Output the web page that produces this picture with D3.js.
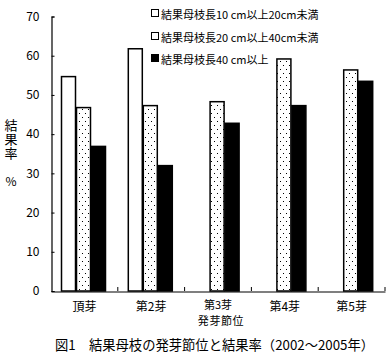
<!DOCTYPE html>
<html><head><meta charset="utf-8">
<script src="https://cdn.jsdelivr.net/npm/d3@7"></script>
<style>body{margin:0;background:#fff}svg{display:block}</style>
</head><body>
<svg id="c" width="391" height="357"></svg>
<script>
const categories = ["頂芽","第2芽","第3芽","第4芽","第5芽"];
const seriesNames = ["結果母枝長10 cm以上20cm未満","結果母枝長20 cm以上40cm未満","結果母枝長40 cm以上"];
const s1 = [54.8, 61.9, null, null, null];
const s2 = [46.9, 47.4, 48.4, 59.3, 56.5];
const s3 = [37.0, 32.1, 42.9, 47.4, 53.6];
const yTicks = [0,10,20,30,40,50,60,70];
const series = [s1, s2, s3];

const font = "'Noto Sans CJK JP', sans-serif";
const svg = d3.select("#c");
const defs = svg.append("defs");
const pat = defs.append("pattern").attr("id","dots").attr("patternUnits","userSpaceOnUse")
  .attr("width",6).attr("height",8);
pat.append("rect").attr("width",6).attr("height",8).attr("fill","#fff");
pat.append("rect").attr("x",1).attr("y",1).attr("width",1).attr("height",1).attr("fill","#000");
pat.append("rect").attr("x",4).attr("y",5).attr("width",1).attr("height",1).attr("fill","#000");

const x0 = d3.scaleBand().domain(categories).range([51,385]).padding(0);
const x1 = d3.scaleBand().domain([0,1,2]).range([10,55]).padding(0);
const y = d3.scaleLinear().domain([0,70]).range([291,16.5]);

const fills = ["#fff","url(#dots)","#000"];

// bars
categories.forEach((c,i)=>{
  series.forEach((s,j)=>{
    const v = s[i];
    if (v==null) return;
    svg.append("rect")
      .attr("x", x0(c)+x1(j)+0.5)
      .attr("y", y(v)+0.5)
      .attr("width", x1.bandwidth()-1)
      .attr("height", y(0)-y(v)-0.5)
      .attr("fill", fills[j]).attr("stroke","#000").attr("stroke-width",1.5);
  });
});

// y axis
const ya = svg.append("g").attr("transform","translate(51.5,0)")
  .call(d3.axisRight(y).tickValues(yTicks).tickSize(3).tickFormat(d3.format("d")));
ya.select(".domain").attr("stroke","#000").attr("stroke-width",1.2);
ya.selectAll(".tick line").attr("stroke","#000");
ya.selectAll(".tick text").attr("x",-12).attr("text-anchor","end")
  .attr("font-family",font).attr("font-size",12).attr("fill","#000");

// x axis
const xa = svg.append("g").attr("transform","translate(0,291.5)")
  .call(d3.axisBottom(x0).tickSize(0).tickFormat(""));
xa.select(".domain").attr("stroke","#000").attr("stroke-width",1.2);
x0.domain().forEach(c=>{
  const xr = x0(c)+x0.bandwidth();
  svg.append("line").attr("x1",xr).attr("x2",xr).attr("y1",291).attr("y2",287).attr("stroke","#000");
});
categories.forEach((c,i)=>{
  svg.append("text").attr("x",x0(c)+x0.bandwidth()/2).attr("y",i===2 ? 309 : 311)
    .attr("text-anchor","middle").attr("font-family",font).attr("font-size",i===2 ? 11 : 12).text(c);
});
svg.append("text").attr("x",x0(categories[2])+x0.bandwidth()/2+3).attr("y",325)
  .attr("text-anchor","middle").attr("font-family",font).attr("font-size",11)
  .attr("letter-spacing",0.6).text("発芽節位");

// y label (vertical)
svg.append("text").attr("x",11).attr("y",119)
  .attr("font-family",font).attr("font-size",13)
  .style("writing-mode","vertical-rl").attr("letter-spacing",1).text("結果率");
svg.append("text").attr("x",11).attr("y",186).attr("text-anchor","middle")
  .attr("font-family",font).attr("font-size",12).text("%");

// legend
const legY = [14, 37, 59];
seriesNames.forEach((n,i)=>{
  svg.append("rect").attr("x",151.5).attr("y",legY[i]-4.5).attr("width",7).attr("height",7)
    .attr("fill", i==2 ? "#000" : "#fff").attr("stroke","#000").attr("stroke-width",1);
  svg.append("text").attr("x",161).attr("y",legY[i]+4.5)
    .attr("font-family",font).attr("font-size",11).text(n);
});

// caption
svg.append("text").attr("x",55).attr("y",350).attr("font-family",font).attr("font-size",13.3)
  .text("図1　結果母枝の発芽節位と結果率（2002～2005年）");
</script>
</body></html>
